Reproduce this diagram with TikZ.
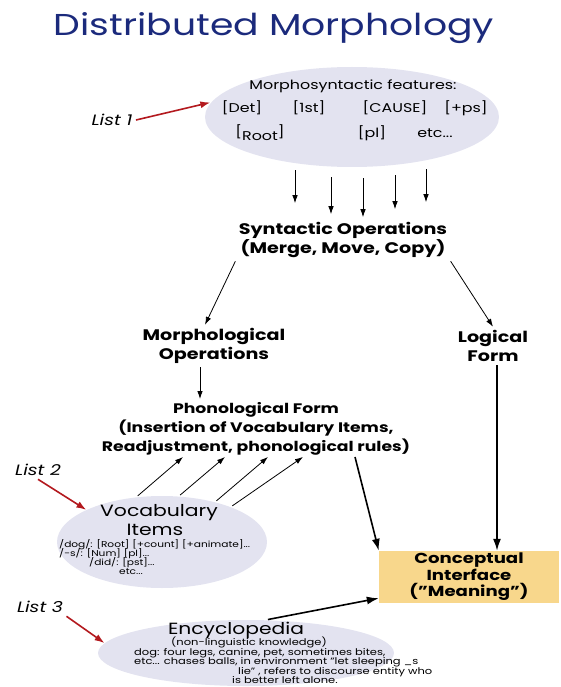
\documentclass[tikz,border=0pt]{standalone}
\usepackage{fontspec}
\setmainfont[FakeStretch=1.25]{Poppins}
\usetikzlibrary{arrows.meta,calc,positioning,shapes.geometric}
\definecolor{titleblue}{HTML}{1B2A7C}
\definecolor{lav}{HTML}{E3E3F0}
\definecolor{listred}{HTML}{B3191E}
\definecolor{meaning}{HTML}{F8D78C}
\newcommand{\fsz}[2]{\fontsize{#1}{#2}\selectfont\lineskiplimit=-\maxdimen}
\newcommand{\dq}{\symbol{34}}

\begin{document}
\begin{tikzpicture}[x=1pt,y=-1pt,
  bag/.style={ellipse,fill=lav,inner sep=0pt},
  feat/.style={font=\fsz{12.7}{14}},
  op/.style={align=center,font=\bfseries\fsz{15.3}{19}},
  arr/.style={-{Latex[length=8pt,width=5.5pt]},thick},
  bigarr/.style={-{Latex[length=12pt,width=8pt]},line width=1.6pt},
  redarr/.style={-{Latex[length=10pt,width=7pt]},line width=1.6pt,listred},
  listlbl/.style={font=\itshape\fsz{15}{16}},
  small/.style={font=\fsz{8.5}{9.2},inner sep=0pt}]
  \useasboundingbox (0,0) rectangle (560,687);
  \node[font=\fsz{30.2}{34},text=titleblue] (title) at (274,28) {Distributed Morphology};
  % list 1: features
  \node[bag,minimum width=294pt,minimum height=100pt] (feat) at (352,117) {};
  \node[feat] (fhead) at (353,86) {Morphosyntactic features:};
  \node[feat] (det) at (242,108) {[Det]};
  \node[feat] (first) at (309,108) {[1st]};
  \node[feat] (cause) at (395,108) {[CAUSE]};
  \node[feat] (ps) at (466,108) {[+ps]};
  \node[feat] (root) at (260,133) {[\raisebox{-4pt}{Root}]};
  \node[feat] (pl) at (372,133) {[pl]};
  \node[feat] (fetc) at (435,133) {etc...};
  \node[listlbl] (list1) at (112,120) {List 1};
  \draw[redarr,shorten >=1pt] (list1.east) -- (feat.174);
  \foreach \dx/\top/\len in {-57/3/33,-21/10/37,11/11/39,43/8/34,74/2/33}
    \draw[arr] ([shift={(\dx pt,-\top pt)}]feat.south) -- ++(0,\len);
  % operations
  \node[op] (syn) at (343,240) {Syntactic Operations\\(Merge, Move, Copy)};
  \node[op] (morph) at (214,346) {Morphological\\Operations};
  \node[op] (lf) at (493,346) {Logical\\Form};
  \node[op,font=\bfseries\fsz{13.8}{19}] (pf) at (256,429) {Phonological Form\\(Insertion of Vocabulary Items,\\Readjustment, phonological rules)};
  \draw[arr] (syn.south west) -- ([xshift=-9pt]morph.north);
  \draw[arr] (syn.south east) -- (lf.north);
  \draw[arr] ([xshift=-14pt]morph.south) -- ([xshift=-14pt]morph.south |- pf.north);
  \node[fill=meaning,minimum width=180pt,minimum height=52pt,inner sep=0pt,
    align=center,font=\bfseries\fsz{14.5}{16.5}] (mean) at (469,577)
    {Conceptual\\Interface\\(\dq Meaning\dq)};
  \draw[bigarr] ([xshift=4pt]lf.south) -- ([xshift=4pt]lf.south |- mean.north);
  \draw[bigarr] ([xshift=99pt,yshift=2pt]pf.south) -- (mean.north west);
  % list 2: vocabulary
  \node[bag,minimum width=210pt,minimum height=92pt] (vocab) at (162,542) {};
  \node[font=\fsz{16.3}{17}] (vname) at (159,513) {Vocabulary};
  \node[font=\fsz{16.3}{17}] (vitem) at (155,530) {Items};
  \node[small,align=left,anchor=north west] (vitems) at (59,539)
    {/dog/: [Root] [+count] [+animate]...\\/-s/: [Num] [pl]...\\\hspace{30pt}/did/: [pst]...\\\hspace{60pt}etc...};
  \node[listlbl] (list2) at (38,470) {List 2};
  \draw[redarr] (list2.south) -- (vocab.157);
  \foreach \a/\dx in {120/-73,70/-31,37/12,27/47}
    \draw[arr,shorten <=2pt] (vocab.\a) -- ([xshift=\dx pt,yshift=2pt]pf.south);
  % list 3: encyclopedia
  \node[bag,minimum width=296pt,minimum height=66pt] (encyc) at (246,653) {};
  \node[font=\fsz{16.2}{17}] (ename) at (236,630) {Encyclopedia};
  \node[small,font=\fsz{9.2}{9.4},align=left,anchor=north west] (etext) at (134,637)
    {\hspace{37pt}(non-linguistic knowledge)\\dog: four legs, canine, pet, sometimes bites,\\etc... chases balls, in environment \dq let sleeping \_s\\\hspace{104pt}lie\dq\ , refers to discourse entity who\\\hspace{98pt}is better left alone.};
  \node[listlbl] (list3) at (40,607) {List 3};
  \draw[redarr] (list3.south east) -- (encyc.176);
  \draw[bigarr,shorten <=3pt] (encyc.60) -- ([yshift=5pt]mean.south west);
\end{tikzpicture}
\end{document}
